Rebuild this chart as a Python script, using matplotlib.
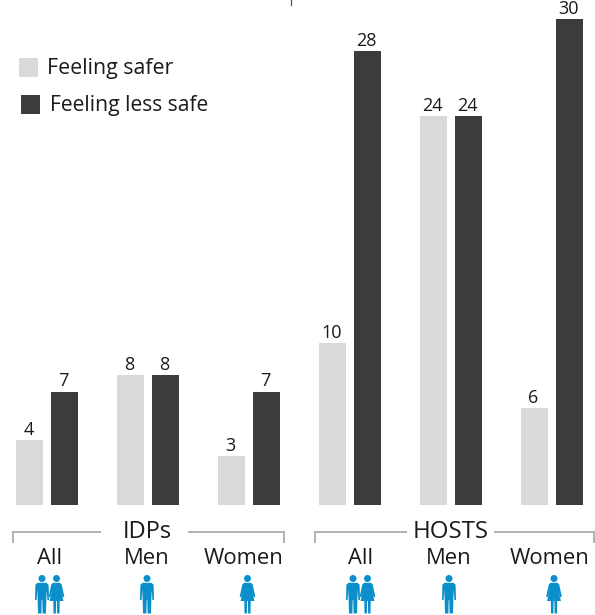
import matplotlib.pyplot as plt
from matplotlib.patches import Circle, Polygon, Rectangle

plt.rcParams['font.family'] = ['Open Sans', 'DejaVu Sans']

groups = ['All', 'Men', 'Women', 'All', 'Men', 'Women']
safer = [4, 8, 3, 10, 24, 6]
less_safe = [7, 8, 7, 28, 24, 30]

LIGHT = '#d9d9d9'
DARK = '#3c3c3b'
BLUE = '#0a8fcb'
GREY = '#b2b2b2'
INK = '#1a1a1a'

# pixel layout of the page
width, height = 595, 615
baseline = 505
per_unit = 16.2
safer_left = [16, 117, 218, 319, 420, 521]
less_left = [51, 152, 253, 354, 455, 556]
bar_w = 27
label_x = [50, 147, 244, 361, 449, 550]


def draw_man(ax, x):
    ax.add_patch(Circle((x, 578.5), 3.5, color=BLUE, lw=0))
    body = [(x - 4.5, 582.8), (x + 4.5, 582.8), (x + 6.6, 584.8), (x + 7, 600), (x + 5.4, 600),
            (x + 4.8, 590), (x + 4.4, 598), (x + 4, 613.5), (x + 0.6, 613.5), (x + 0.3, 600),
            (x - 0.3, 600), (x - 0.6, 613.5), (x - 4, 613.5), (x - 4.4, 598), (x - 4.8, 590),
            (x - 5.4, 600), (x - 7, 600), (x - 6.6, 584.8)]
    ax.add_patch(Polygon(body, closed=True, color=BLUE, lw=0))


def draw_woman(ax, x):
    ax.add_patch(Circle((x, 578.5), 3.5, color=BLUE, lw=0))
    body = [(x - 3.5, 582.8), (x + 3.5, 582.8), (x + 5.2, 584.5), (x + 7.8, 596.5), (x + 6.3, 597.5),
            (x + 4, 590), (x + 7, 601), (x + 3.2, 601), (x + 3, 613.5), (x + 0.6, 613.5),
            (x + 0.4, 601), (x - 0.4, 601), (x - 0.6, 613.5), (x - 3, 613.5), (x - 3.2, 601),
            (x - 7, 601), (x - 4, 590), (x - 6.3, 597.5), (x - 7.8, 596.5), (x - 5.2, 584.5)]
    ax.add_patch(Polygon(body, closed=True, color=BLUE, lw=0))


fig = plt.figure(figsize=(width / 100, height / 100), dpi=100)

# bars live on a value axis lined up with the page
ax = fig.add_axes([0, 0, 1, 1])
ax.set_xlim(0, width)
ax.set_ylim((baseline - height) / per_unit, baseline / per_unit)
ax.axis('off')

ax.bar(safer_left, safer, width=bar_w, align='edge', color=LIGHT, lw=0)
ax.bar(less_left, less_safe, width=bar_w, align='edge', color=DARK, lw=0)

for left, val in zip(safer_left, safer):
    ax.annotate(str(val), (left + bar_w / 2 - 1, val), xytext=(0, 0.8), textcoords='offset points',
                ha='center', va='bottom', fontsize=13, color=INK, clip_on=False)
for left, val in zip(less_left, less_safe):
    ax.annotate(str(val), (left + bar_w / 2 - 1, val), xytext=(0, 0.8), textcoords='offset points',
                ha='center', va='bottom', fontsize=13, color=INK, clip_on=False)

# everything else is placed in page pixels
page = fig.add_axes([0, 0, 1, 1])
page.set_xlim(0, width)
page.set_ylim(height, 0)
page.axis('off')
page.patch.set_alpha(0)

page.add_patch(Rectangle((19, 58), 19, 19, color=LIGHT, lw=0))
page.add_patch(Rectangle((21, 95), 19, 19, color=DARK, lw=0))
page.text(47, 68.5, 'Feeling safer', fontsize=15.4, color=INK, va='center')
page.text(49.5, 105, 'Feeling less safe', fontsize=15.2, color=INK, va='center')

# small tick left at the top edge
page.plot([290.5, 290.5], [0, 5], color='#555555', lw=0.9)

# group brackets
for xs in ([13, 101], [188, 284], [315, 407], [494, 594]):
    page.plot(xs, [532, 532], color=GREY, lw=1.4, solid_capstyle='butt')
for x in (13, 284, 315, 594):
    page.plot([x, x], [531.3, 543], color=GREY, lw=1.4, solid_capstyle='butt')

page.text(147, 531.5, 'IDPs', fontsize=17, color=INK, ha='center', va='center')
page.text(451, 531.5, 'HOSTS', fontsize=17.3, color=INK, ha='center', va='center')

for x, name in zip(label_x, groups):
    page.text(x, 558.5, name, fontsize=15.8, color=INK, ha='center', va='center')

for x in (42, 353, 147, 449):
    draw_man(page, x)
for x in (56.5, 367.5, 247.5, 554):
    draw_woman(page, x)

fig.savefig('out.png', dpi=100)
